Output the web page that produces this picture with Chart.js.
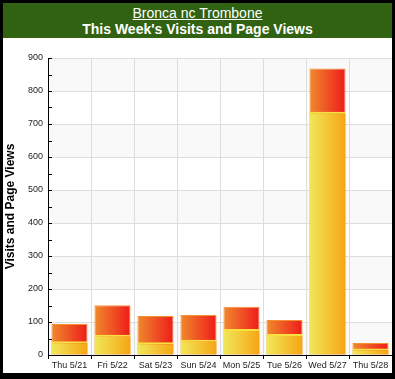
<!DOCTYPE html>
<html>
<head>
<meta charset="utf-8">
<script src="https://cdn.jsdelivr.net/npm/chart.js@4"></script>
<style>
    body { margin: 0; background: #000; }
    #frame { position: absolute; left: 3px; top: 3px; width: 389px; height: 370px; background: #fff; }
    #header { height: 35px; background: #316212; color: #fff; text-align: center; font-family: "Liberation Sans", Arial, sans-serif; }
    #site { font-size: 14px; text-decoration: underline; line-height: 16px; padding-top: 2px; }
    #title { font-size: 14px; font-weight: bold; line-height: 16px; }
    #box { position: relative; width: 389px; height: 335px; }
</style>
</head>
<body>
<div id="frame">
    <div id="header">
        <div id="site">Bronca nc Trombone</div>
        <div id="title">This Week's Visits and Page Views</div>
    </div>
    <div id="box"><canvas id="chart"></canvas></div>
</div>
<script>
const days = ["Thu 5/21", "Fri 5/22", "Sat 5/23", "Sun 5/24", "Mon 5/25", "Tue 5/26", "Wed 5/27", "Thu 5/28"];
const visits = [42, 61, 39, 46, 79, 64, 737, 20];
const pageViews = [94, 151, 118, 121, 146, 106, 868, 36];
const yTicks = [0, 100, 200, 300, 400, 500, 600, 700, 800, 900];

function barGradient(ctx, c1, c2)
{
    const chart = ctx.chart;
    if (!chart.chartArea || !chart.scales.x) return c1;
    const x = chart.scales.x.getPixelForValue(ctx.dataIndex);
    const half = chart.scales.x.width / days.length * 0.42;
    const g = chart.ctx.createLinearGradient(x - half, 0, x + half, 0);
    g.addColorStop(0, c1);
    g.addColorStop(1, c2);
    return g;
}

const bands =
{
    id: "bands",
    beforeDraw(chart)
    {
        const { ctx, chartArea, scales } = chart;
        ctx.save();
        ctx.fillStyle = "#f9f9f9";
        for (let i = 0; i < yTicks.length - 1; i += 2)
        {
            const top = scales.y.getPixelForValue(yTicks[i + 1]);
            const bottom = scales.y.getPixelForValue(yTicks[i]);
            ctx.fillRect(chartArea.left, top, chartArea.right - chartArea.left, bottom - top);
        }
        ctx.restore();
    },
    afterDraw(chart)
    {
        const { ctx, chartArea, scales } = chart;
        ctx.save();
        ctx.strokeStyle = "#000";
        ctx.lineWidth = 1;
        ctx.beginPath();
        for (let v = 0; v <= 900; v += 50)
        {
            const y = Math.round(scales.y.getPixelForValue(v)) + 0.5;
            ctx.moveTo(chartArea.left, y);
            ctx.lineTo(chartArea.left + 4, y);
        }
        ctx.stroke();
        ctx.restore();
    }
};

new Chart(document.getElementById("chart"),
{
    type: "bar",
    data:
    {
        labels: days,
        datasets:
        [
            {
                label: "Visits",
                data: visits,
                grouped: false,
                backgroundColor: ctx => barGradient(ctx, "#f0e85a", "#f6a514"),
                borderColor: "#f8e040",
                borderWidth: { top: 2, left: 0, right: 0, bottom: 0 },
                categoryPercentage: 0.84,
                barPercentage: 1
            },
            {
                label: "Page Views",
                data: pageViews,
                grouped: false,
                backgroundColor: ctx => barGradient(ctx, "#f08a2c", "#ee1b1b"),
                borderColor: "#f39030",
                borderWidth: 1,
                categoryPercentage: 0.84,
                barPercentage: 1
            }
        ]
    },
    options:
    {
        responsive: true,
        maintainAspectRatio: false,
        animation: false,
        layout: { padding: { top: 20, right: 0, left: 0, bottom: 0 } },
        plugins:
        {
            legend: { display: false },
            tooltip: { enabled: false }
        },
        scales:
        {
            x:
            {
                offset: true,
                grid: { color: "#dddddd", tickColor: "#000", tickLength: 4, offset: true },
                border: { color: "#000", width: 1 },
                ticks: { color: "#222", font: { family: "Liberation Sans", size: 9 }, padding: 1, maxRotation: 0, autoSkip: false },
                afterFit(scale) { scale.height = 18; }
            },
            y:
            {
                min: 0,
                max: 900,
                ticks: { stepSize: 100, color: "#222", font: { family: "Liberation Sans", size: 9 }, padding: 5 },
                grid: { color: "#dddddd", drawTicks: false },
                border: { color: "#000", width: 1 },
                title: { display: true, text: "Visits and Page Views", color: "#000", font: { family: "Liberation Sans", size: 12, weight: "bold" }, padding: 0 },
                afterFit(scale) { scale.width = 45; }
            }
        }
    },
    plugins: [bands]
});
</script>
</body>
</html>
